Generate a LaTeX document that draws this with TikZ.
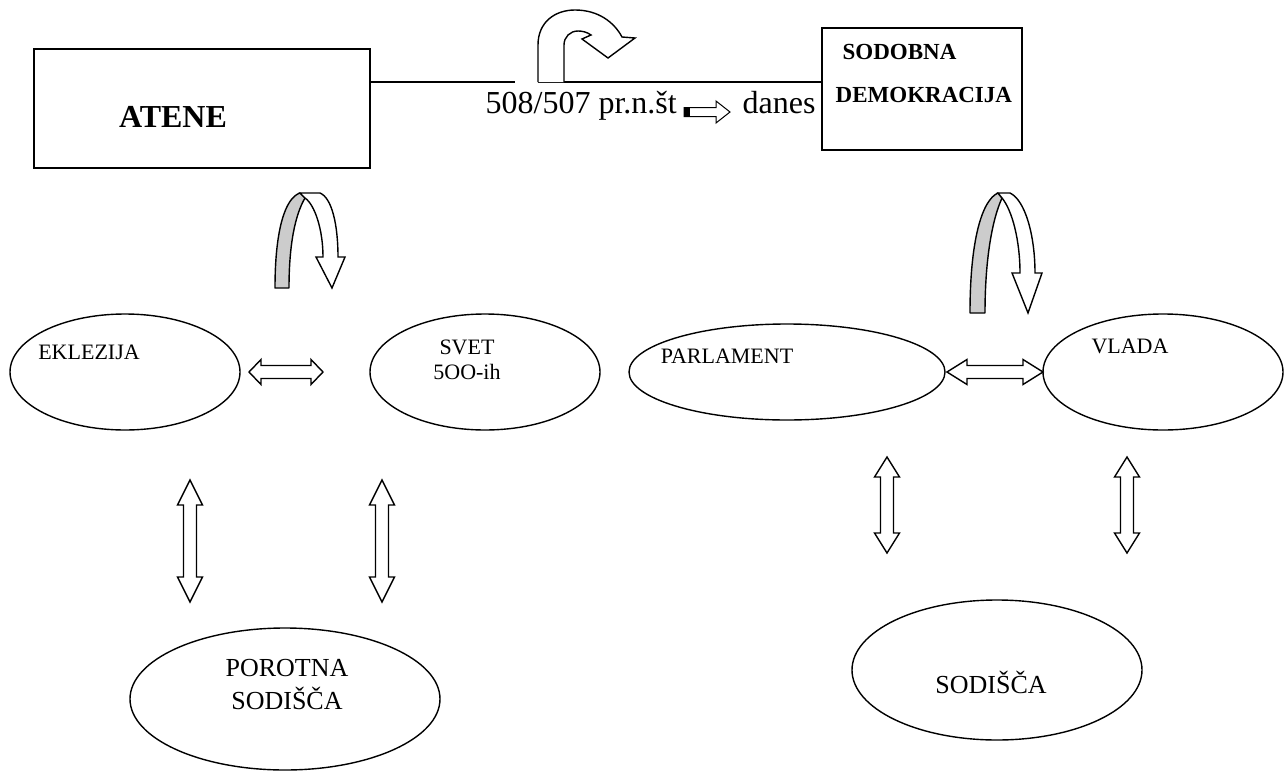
\documentclass[tikz,border=0pt]{standalone}
\usepackage{fontspec}
\setmainfont{Liberation Serif}
\usetikzlibrary{shapes.geometric}
\newcommand\vdarr[4]{%
  \draw[blk] (#1,#2) -- (#1+12.5,#2+#4) -- (#1+6.5,#2+#4) -- (#1+6.5,#3-#4) -- (#1+12.5,#3-#4) -- (#1,#3) -- (#1-12.5,#3-#4) -- (#1-6.5,#3-#4) -- (#1-6.5,#2+#4) -- (#1-12.5,#2+#4) -- cycle;}
\newcommand\hdarr[4]{%
  \draw[blk] (#1,#3) -- (#1+#4,#3-12.5) -- (#1+#4,#3-6.5) -- (#2-#4,#3-6.5) -- (#2-#4,#3-12.5) -- (#2,#3) -- (#2-#4,#3+12.5) -- (#2-#4,#3+6.5) -- (#1+#4,#3+6.5) -- (#1+#4,#3+12.5) -- cycle;}
\begin{document}
\begin{tikzpicture}[x=1pt,y=-1pt,line width=1.4pt,
  box/.style={draw,rectangle,inner sep=0pt},
  ell/.style={draw,ellipse,inner sep=0pt},
  lbl/.style={font=\fontsize{22}{25}\selectfont,align=center,inner sep=0pt},
  lblbig/.style={font=\fontsize{26}{33}\selectfont,align=center,inner sep=0pt},
  bold/.style={font=\bfseries\fontsize{23}{26}\selectfont,inner sep=0pt,anchor=west},
  yrtxt/.style={anchor=base west,font=\fontsize{32}{34}\selectfont,inner sep=0pt},
  blk/.style={draw,fill=white,line join=miter},
  rib/.style={draw,fill=black!20,line join=round},
  ribw/.style={draw,fill=white,line join=miter}]
\useasboundingbox (0,0) rectangle (1288,771);
% boxes
\node[box,minimum width=336pt,minimum height=119pt] (atene) at (202,108.5) {};
\node[font=\bfseries\fontsize{32}{34}\selectfont,inner sep=0pt] (ateneT) at (173,117) {ATENE};
\node[box,minimum width=200pt,minimum height=122pt] (sodobna) at (922,89) {};
\node[bold] (sodobnaT1) at (842,52) {SODOBNA};
\node[bold] (sodobnaT2) at (835,95) {DEMOKRACIJA};
% timeline
\coordinate (tl1) at (515,82);
\coordinate (tl2) at (538,82);
\draw (atene.east |- tl1) -- (tl1);
\draw (tl2) -- (sodobna.west |- tl2);
% U-turn arrow
\draw[ribw] (538,82) -- (538,45) .. controls (538,22) and (555,10) .. (575,10)
  .. controls (598,10) and (614,22) .. (622,37) -- (635,38) -- (608,58) -- (582,39) -- (591,35)
  .. controls (587,32) and (582,31) .. (578,31) .. controls (570,31) and (564,37) .. (564,45) -- (564,82);
\node[yrtxt] (yr) at (485,113) {508/507 pr.n.št};
\node[yrtxt] (danes) at (742,113) {danes};
\draw[blk,line width=1pt] (684,107.5) -- (716,107.5) -- (716,101) -- (730,112) -- (716,123) -- (716,116.5) -- (684,116.5) -- cycle;
\fill (684,107.5) rectangle (690,116.5);
% curved arrows under boxes
\draw[rib] (275,288) .. controls (275,230) and (285,198) .. (300,193) -- (305,198)
  .. controls (295,215) and (289,245) .. (289,288) -- cycle;
\draw[ribw] (305,198) -- (300,193) -- (320,193) .. controls (332,198) and (338,225) .. (338,257)
  -- (345,257) -- (332,288) -- (316,257) -- (323,257) .. controls (323,230) and (315,205) .. (305,198);
\draw[rib] (970,313) .. controls (970,240) and (982,200) .. (998,193) -- (1002,198)
  .. controls (992,220) and (985,260) .. (985,313) -- cycle;
\draw[ribw] (1002,198) -- (998,193) -- (1010,193) .. controls (1025,200) and (1035,235) .. (1035,273)
  -- (1042,273) -- (1028,313) -- (1012,273) -- (1020,273) .. controls (1020,240) and (1012,210) .. (1002,198);
% ellipses
\node[ell,minimum width=230pt,minimum height=116pt] (ekl) at (125,372) {};
\node[lbl] (eklT) at (89,352) {EKLEZIJA};
\node[ell,minimum width=230pt,minimum height=116pt] (svet) at (485,372) {};
\node[lbl] (svetT) at (467,360) {SVET\\5OO-ih};
\node[ell,minimum width=316pt,minimum height=96pt] (parl) at (787,372) {};
\node[lbl] (parlT) at (727,356) {PARLAMENT};
\node[ell,minimum width=240pt,minimum height=116pt] (vlada) at (1163,372) {};
\node[lbl] (vladaT) at (1130,346) {VLADA};
\node[ell,minimum width=310pt,minimum height=142pt] (porot) at (285,699) {};
\node[lblbig] (porotT) at (287,685) {POROTNA\\SODIŠČA};
\node[ell,minimum width=290pt,minimum height=140pt] (sodis) at (997,670) {};
\node[lblbig] (sodisT) at (991,682) {SODIŠČA};
% double arrows
\hdarr{249}{323}{372}{12}
\hdarr{947}{1043}{372}{20}
\vdarr{190}{480}{602}{25}
\vdarr{382}{480}{602}{25}
\vdarr{887}{457}{553}{20}
\vdarr{1127}{457}{553}{20}
\end{tikzpicture}
\end{document}
